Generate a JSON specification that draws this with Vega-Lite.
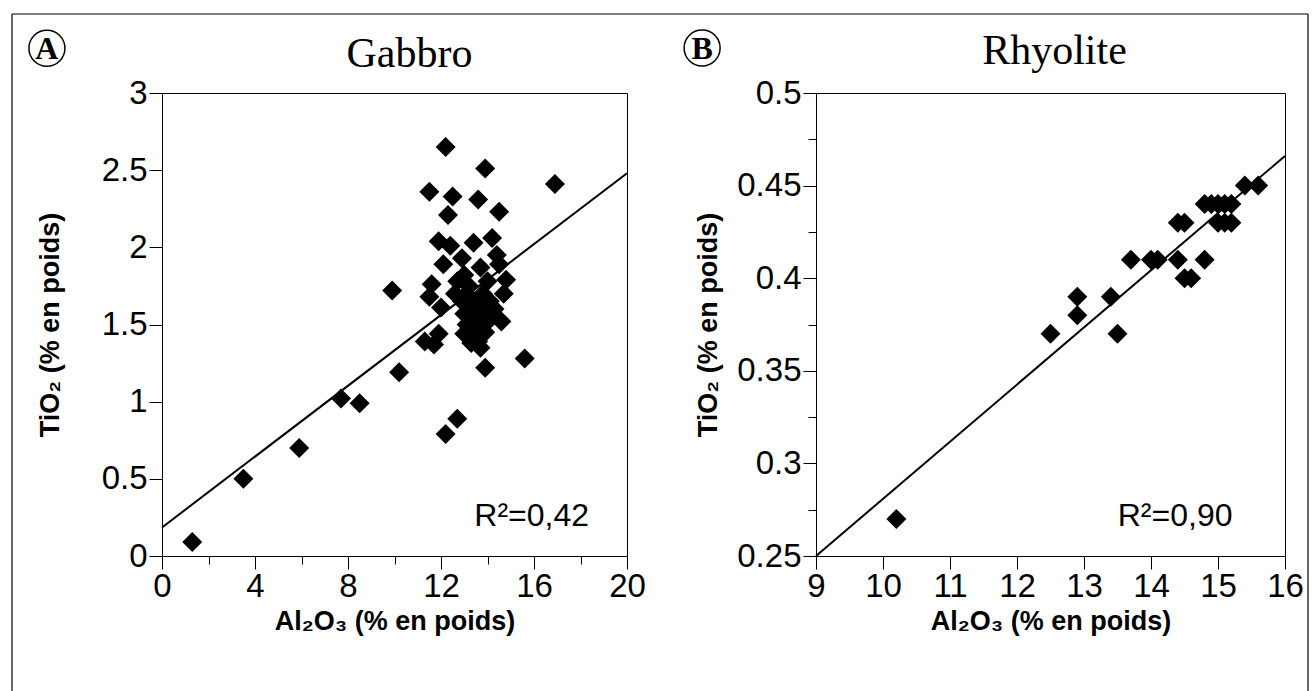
{
  "$schema": "https://vega.github.io/schema/vega-lite/v6.json",
  "background": "white",
  "padding": {"left": 10, "top": 12, "right": 0, "bottom": 0},
  "bounds": "flush",
  "spacing": 189,
  "config": {
    "font": "Liberation Sans",
    "view": {"stroke": "black", "strokeWidth": 1},
    "axis": {
      "grid": false,
      "domainColor": "black",
      "tickColor": "black",
      "labelColor": "black",
      "titleColor": "black",
      "labelFont": "Liberation Sans",
      "titleFont": "Liberation Sans",
      "labelFontSize": 33,
      "titleFontSize": 27,
      "titleFontWeight": "bold",
      "labelFlush": false,
      "labelOverlap": false,
      "labelPadding": 1,
      "format": "~g"
    }
  },
  "datasets": {
    "gabbro": [
      {"Al2O3": 1.3, "TiO2": 0.09}, {"Al2O3": 3.5, "TiO2": 0.5}, {"Al2O3": 5.9, "TiO2": 0.7},
      {"Al2O3": 7.7, "TiO2": 1.02}, {"Al2O3": 8.5, "TiO2": 0.99}, {"Al2O3": 10.2, "TiO2": 1.19},
      {"Al2O3": 9.9, "TiO2": 1.72}, {"Al2O3": 12.2, "TiO2": 0.79}, {"Al2O3": 12.7, "TiO2": 0.89},
      {"Al2O3": 15.6, "TiO2": 1.28}, {"Al2O3": 13.9, "TiO2": 1.22}, {"Al2O3": 12.2, "TiO2": 2.65},
      {"Al2O3": 13.9, "TiO2": 2.51}, {"Al2O3": 16.9, "TiO2": 2.41}, {"Al2O3": 11.5, "TiO2": 2.36},
      {"Al2O3": 12.5, "TiO2": 2.33}, {"Al2O3": 13.6, "TiO2": 2.31}, {"Al2O3": 14.5, "TiO2": 2.23},
      {"Al2O3": 12.3, "TiO2": 2.21}, {"Al2O3": 11.9, "TiO2": 2.04}, {"Al2O3": 12.4, "TiO2": 2.01},
      {"Al2O3": 12.9, "TiO2": 1.93}, {"Al2O3": 13.4, "TiO2": 2.03}, {"Al2O3": 14.2, "TiO2": 2.06},
      {"Al2O3": 12.1, "TiO2": 1.89}, {"Al2O3": 14.4, "TiO2": 1.95}, {"Al2O3": 11.6, "TiO2": 1.76},
      {"Al2O3": 11.5, "TiO2": 1.68}, {"Al2O3": 12.0, "TiO2": 1.61}, {"Al2O3": 12.7, "TiO2": 1.78},
      {"Al2O3": 13.7, "TiO2": 1.87}, {"Al2O3": 14.5, "TiO2": 1.89}, {"Al2O3": 14.8, "TiO2": 1.79},
      {"Al2O3": 14.7, "TiO2": 1.7}, {"Al2O3": 13.1, "TiO2": 1.7}, {"Al2O3": 13.7, "TiO2": 1.61},
      {"Al2O3": 13.0, "TiO2": 1.57}, {"Al2O3": 14.0, "TiO2": 1.52}, {"Al2O3": 14.6, "TiO2": 1.52},
      {"Al2O3": 13.4, "TiO2": 1.48}, {"Al2O3": 13.0, "TiO2": 1.44}, {"Al2O3": 13.7, "TiO2": 1.35},
      {"Al2O3": 11.9, "TiO2": 1.44}, {"Al2O3": 11.3, "TiO2": 1.39}, {"Al2O3": 11.7, "TiO2": 1.37},
      {"Al2O3": 13.6, "TiO2": 1.39}, {"Al2O3": 13.2, "TiO2": 1.75}, {"Al2O3": 13.5, "TiO2": 1.65},
      {"Al2O3": 13.3, "TiO2": 1.6}, {"Al2O3": 13.8, "TiO2": 1.7}, {"Al2O3": 13.9, "TiO2": 1.58},
      {"Al2O3": 14.1, "TiO2": 1.65}, {"Al2O3": 13.4, "TiO2": 1.55}, {"Al2O3": 13.6, "TiO2": 1.5},
      {"Al2O3": 13.9, "TiO2": 1.45}, {"Al2O3": 14.2, "TiO2": 1.55}, {"Al2O3": 13.1, "TiO2": 1.5},
      {"Al2O3": 12.9, "TiO2": 1.65}, {"Al2O3": 12.6, "TiO2": 1.7}, {"Al2O3": 13.0, "TiO2": 1.82},
      {"Al2O3": 14.0, "TiO2": 1.78}, {"Al2O3": 13.7, "TiO2": 1.42}, {"Al2O3": 14.3, "TiO2": 1.6},
      {"Al2O3": 13.3, "TiO2": 1.38}
    ],
    "gabbroFit": [{"Al2O3": 0, "TiO2": 0.185}, {"Al2O3": 20, "TiO2": 2.48}],
    "rhyolite": [
      {"Al2O3": 10.2, "TiO2": 0.27}, {"Al2O3": 12.5, "TiO2": 0.37}, {"Al2O3": 12.9, "TiO2": 0.38},
      {"Al2O3": 12.9, "TiO2": 0.39}, {"Al2O3": 13.4, "TiO2": 0.39}, {"Al2O3": 13.5, "TiO2": 0.37},
      {"Al2O3": 13.7, "TiO2": 0.41}, {"Al2O3": 14.0, "TiO2": 0.41}, {"Al2O3": 14.1, "TiO2": 0.41},
      {"Al2O3": 14.4, "TiO2": 0.41}, {"Al2O3": 14.4, "TiO2": 0.43}, {"Al2O3": 14.5, "TiO2": 0.43},
      {"Al2O3": 14.5, "TiO2": 0.4}, {"Al2O3": 14.6, "TiO2": 0.4}, {"Al2O3": 14.8, "TiO2": 0.41},
      {"Al2O3": 14.8, "TiO2": 0.44}, {"Al2O3": 14.9, "TiO2": 0.44}, {"Al2O3": 15.0, "TiO2": 0.43},
      {"Al2O3": 15.0, "TiO2": 0.44}, {"Al2O3": 15.1, "TiO2": 0.43}, {"Al2O3": 15.1, "TiO2": 0.44},
      {"Al2O3": 15.2, "TiO2": 0.43}, {"Al2O3": 15.2, "TiO2": 0.44}, {"Al2O3": 15.4, "TiO2": 0.45},
      {"Al2O3": 15.6, "TiO2": 0.45}
    ],
    "rhyoliteFit": [{"Al2O3": 9, "TiO2": 0.25}, {"Al2O3": 16, "TiO2": 0.466}]
  },
  "hconcat": [
    {
      "width": 465,
      "height": 463,
      "title": {"text": "Gabbro", "font": "Liberation Serif", "fontSize": 42, "fontWeight": "normal", "color": "black", "frame": "group", "anchor": "middle", "dx": 15, "offset": -63},
      "layer": [
        {
          "data": {"name": "gabbro"},
          "mark": {"type": "point", "shape": "diamond", "filled": true, "color": "black", "opacity": 1, "size": 400},
          "encoding": {
            "x": {"field": "Al2O3", "type": "quantitative", "scale": {"domain": [0, 20], "nice": false, "zero": false},
              "axis": {"title": "Al₂O₃ (% en poids)", "values": [0, 2, 4, 6, 8, 10, 12, 14, 16, 18, 20],
                "labelExpr": "datum.value % 4 === 0 ? datum.label : ''",
                "tickSize": {"condition": {"test": "datum.value % 4 === 0", "value": 13}, "value": 8},
                "titlePadding": 5}},
            "y": {"field": "TiO2", "type": "quantitative", "scale": {"domain": [0, 3], "nice": false, "zero": false},
              "axis": {"title": "TiO₂ (% en poids)", "values": [0, 0.25, 0.5, 0.75, 1, 1.25, 1.5, 1.75, 2, 2.25, 2.5, 2.75, 3],
                "labelExpr": "datum.value % 0.5 === 0 ? datum.label : ''",
                "tickSize": {"condition": {"test": "datum.value % 0.5 === 0", "value": 13}, "value": 8},
                "labelPadding": 2,
                "titlePadding": 37}}
          }
        },
        {
          "data": {"name": "gabbroFit"},
          "mark": {"type": "line", "color": "black", "strokeWidth": 2},
          "encoding": {
            "x": {"field": "Al2O3", "type": "quantitative", "scale": {"domain": [0, 20], "nice": false, "zero": false}, "title": "Al₂O₃ (% en poids)"},
            "y": {"field": "TiO2", "type": "quantitative", "scale": {"domain": [0, 3], "nice": false, "zero": false}, "title": "TiO₂ (% en poids)"}
          }
        },
        {
          "data": {"values": [{}]},
          "mark": {"type": "text", "fontSize": 32, "color": "black", "font": "Liberation Sans", "text": "R²=0,42"},
          "encoding": {"x": {"datum": 15.9, "type": "quantitative"}, "y": {"datum": 0.26, "type": "quantitative"}}
        },
        {
          "data": {"values": [{}]},
          "mark": {"type": "point", "shape": "circle", "filled": false, "stroke": "black", "strokeWidth": 1.5, "opacity": 1, "size": 1296, "clip": false},
          "encoding": {"x": {"datum": -4.95, "type": "quantitative"}, "y": {"datum": 3.29, "type": "quantitative"}}
        },
        {
          "data": {"values": [{}]},
          "mark": {"type": "text", "fontSize": 32, "fontWeight": "bold", "font": "Liberation Serif", "color": "black", "text": "A", "baseline": "middle", "dy": 1, "clip": false},
          "encoding": {"x": {"datum": -4.95, "type": "quantitative"}, "y": {"datum": 3.29, "type": "quantitative"}}
        },
        {
          "data": {"values": [{}]},
          "mark": {"type": "rule", "color": "black", "strokeWidth": 1.2, "clip": false},
          "encoding": {"x": {"datum": -6.452, "type": "quantitative"}, "y": {"datum": 3.512, "type": "quantitative"}, "y2": {"datum": -0.875}}
        },
        {
          "data": {"values": [{}]},
          "mark": {"type": "rule", "color": "black", "strokeWidth": 1.2, "clip": false},
          "encoding": {"x": {"datum": 49.29, "type": "quantitative"}, "y": {"datum": 3.512, "type": "quantitative"}, "y2": {"datum": -0.875}}
        },
        {
          "data": {"values": [{}]},
          "mark": {"type": "rule", "color": "black", "strokeWidth": 1.2, "clip": false},
          "encoding": {"x": {"datum": -6.452, "type": "quantitative"}, "x2": {"datum": 49.29}, "y": {"datum": 3.512, "type": "quantitative"}}
        }
      ]
    },
    {
      "width": 469,
      "height": 463,
      "title": {"text": "Rhyolite", "font": "Liberation Serif", "fontSize": 42, "fontWeight": "normal", "color": "black", "frame": "group", "anchor": "middle", "dx": 4, "offset": -46},
      "layer": [
        {
          "data": {"name": "rhyolite"},
          "mark": {"type": "point", "shape": "diamond", "filled": true, "color": "black", "opacity": 1, "size": 400},
          "encoding": {
            "x": {"field": "Al2O3", "type": "quantitative", "scale": {"domain": [9, 16], "nice": false, "zero": false},
              "axis": {"title": "Al₂O₃ (% en poids)", "values": [9, 9.5, 10, 10.5, 11, 11.5, 12, 12.5, 13, 13.5, 14, 14.5, 15, 15.5, 16],
                "labelExpr": "datum.value % 1 === 0 ? datum.label : ''",
                "tickSize": {"condition": {"test": "datum.value % 1 === 0", "value": 13}, "value": 8},
                "titlePadding": 5}},
            "y": {"field": "TiO2", "type": "quantitative", "scale": {"domain": [0.25, 0.5], "nice": false, "zero": false},
              "axis": {"title": "TiO₂ (% en poids)", "values": [0.25, 0.275, 0.3, 0.325, 0.35, 0.375, 0.4, 0.425, 0.45, 0.475, 0.5],
                "labelExpr": "abs(datum.value * 20 - round(datum.value * 20)) < 0.01 ? datum.label : ''",
                "tickSize": {"condition": {"test": "abs(datum.value * 20 - round(datum.value * 20)) < 0.01", "value": 13}, "value": 8},
                "labelPadding": 2,
                "titlePadding": 14}}
          }
        },
        {
          "data": {"name": "rhyoliteFit"},
          "mark": {"type": "line", "color": "black", "strokeWidth": 2},
          "encoding": {
            "x": {"field": "Al2O3", "type": "quantitative", "scale": {"domain": [9, 16], "nice": false, "zero": false}, "title": "Al₂O₃ (% en poids)"},
            "y": {"field": "TiO2", "type": "quantitative", "scale": {"domain": [0.25, 0.5], "nice": false, "zero": false}, "title": "TiO₂ (% en poids)"}
          }
        },
        {
          "data": {"values": [{}]},
          "mark": {"type": "text", "fontSize": 32, "color": "black", "font": "Liberation Sans", "text": "R²=0,90"},
          "encoding": {"x": {"datum": 14.36, "type": "quantitative"}, "y": {"datum": 0.2716, "type": "quantitative"}}
        },
        {
          "data": {"values": [{}]},
          "mark": {"type": "point", "shape": "circle", "filled": false, "stroke": "black", "strokeWidth": 1.5, "opacity": 1, "size": 1296, "clip": false},
          "encoding": {"x": {"datum": 7.3, "type": "quantitative"}, "y": {"datum": 0.5243, "type": "quantitative"}}
        },
        {
          "data": {"values": [{}]},
          "mark": {"type": "text", "fontSize": 32, "fontWeight": "bold", "font": "Liberation Serif", "color": "black", "text": "B", "baseline": "middle", "dy": 1, "clip": false},
          "encoding": {"x": {"datum": 7.3, "type": "quantitative"}, "y": {"datum": 0.5243, "type": "quantitative"}}
        }
      ]
    }
  ]
}
